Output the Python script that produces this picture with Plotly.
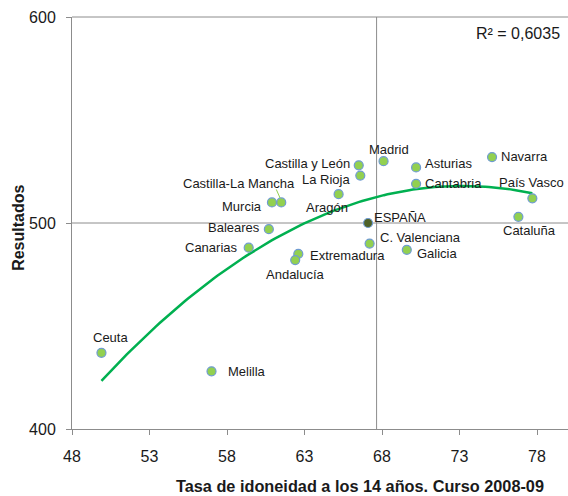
import numpy as np
import plotly.graph_objects as go

regions = ["Madrid", "Castilla y León", "La Rioja", "Asturias", "Cantabria", "Navarra",
           "País Vasco", "Aragón", "Cataluña", "C. Valenciana", "Galicia", "Extremadura",
           "Andalucía", "Baleares", "Canarias", "Ceuta", "Melilla", "Murcia", "Castilla-La Mancha"]
tasa = [68.1, 66.5, 66.6, 70.2, 70.2, 75.1, 77.7, 65.2, 76.8, 67.2, 69.6, 62.6,
        62.4, 60.7, 59.4, 49.9, 57.0, 60.9, 61.5]
resultados = [530, 528, 523, 527, 519, 532, 512, 514, 503, 490, 487, 485,
              482, 497, 488, 437, 428, 510, 510]

espana_label = "ESPAÑA"
espana_x = [67.1]
espana_y = [500]
ref_x = 67.65
ref_y = 500
r2_text = "R² = 0,6035"

# label placement: (xanchor, x pixel shift, y pixel shift; up is positive)
label_style = {
    "Madrid": ("center", 5, 12),
    "Castilla y León": ("right", -7, 2),
    "La Rioja": ("right", -8, -4),
    "Asturias": ("left", 7, 4),
    "Cantabria": ("left", 7, 0),
    "Navarra": ("left", 7, 1),
    "País Vasco": ("center", -1, 16),
    "Aragón": ("center", -12, -13),
    "Cataluña": ("center", 11, -14),
    "C. Valenciana": ("left", 8, 6),
    "Galicia": ("left", 8, -4),
    "Extremadura": ("left", 10, -2),
    "Andalucía": ("center", 0, -14),
    "Baleares": ("right", -7, 2),
    "Canarias": ("right", -9, 0),
    "Ceuta": ("center", 9, 15),
    "Melilla": ("left", 14, 0),
    "Murcia": ("right", -8, -4),
    "Castilla-La Mancha": ("center", -42, 19),
}
espana_style = ("left", 4, 6)

FONT = "Liberation Sans, Arial, sans-serif"
TXT = "#1a1a1a"
AXC = "#8c8c8c"

coef = np.polyfit(tasa, resultados, 2)
xs = np.linspace(min(tasa), max(tasa), 120)
ys = np.polyval(coef, xs)

fig = go.Figure()

fig.add_shape(type="line", xref="x", yref="paper", x0=ref_x, x1=ref_x, y0=0, y1=1,
              line=dict(color=AXC, width=1), layer="below")
fig.add_shape(type="line", xref="paper", yref="y", x0=0, x1=1, y0=ref_y, y1=ref_y,
              line=dict(color=AXC, width=1), layer="below")
fig.add_shape(type="line", xref="paper", yref="paper", x0=0, x1=1, y0=1, y1=1,
              line=dict(color=AXC, width=1))

fig.add_trace(go.Scatter(x=xs, y=ys, mode="lines",
                         line=dict(color="#00B050", width=2.5), hoverinfo="skip"))

fig.add_trace(go.Scatter(x=tasa, y=resultados, mode="markers",
                         marker=dict(size=9, color="#92D050",
                                     line=dict(color="#6F9BD1", width=1.2))))
fig.add_trace(go.Scatter(x=espana_x, y=espana_y, mode="markers",
                         marker=dict(size=9, color="#4F6228",
                                     line=dict(color="#6F9BD1", width=1.2))))

for name, x, y in zip(regions, tasa, resultados):
    anc, dx, dy = label_style[name]
    fig.add_annotation(x=x, y=y, text=name, showarrow=False, xanchor=anc,
                       yanchor="middle", xshift=dx, yshift=dy,
                       font=dict(family=FONT, size=13, color=TXT))
anc, dx, dy = espana_style
fig.add_annotation(x=espana_x[0], y=espana_y[0], text=espana_label, showarrow=False,
                   xanchor=anc, yanchor="middle", xshift=dx, yshift=dy,
                   font=dict(family=FONT, size=13, color=TXT))

# leader line for Castilla-La Mancha
i = regions.index("Castilla-La Mancha")
fig.add_shape(type="line", xref="x", yref="y", xsizemode="pixel", ysizemode="pixel",
              xanchor=tasa[i], yanchor=resultados[i], x0=-5, x1=-1, y0=13, y1=4,
              line=dict(color="#92D050", width=1))

fig.add_annotation(xref="paper", yref="paper", x=0.988, y=0.961, text=r2_text,
                   showarrow=False, xanchor="right", yanchor="middle",
                   font=dict(family=FONT, size=16, color=TXT))

fig.add_annotation(xref="paper", yref="paper", x=0.58, y=-0.138,
                   text="<b>Tasa de idoneidad a los 14 años. Curso 2008-09</b>",
                   showarrow=False, xanchor="center", yanchor="middle",
                   font=dict(family=FONT, size=16.3, color=TXT))
fig.add_annotation(xref="paper", yref="paper", x=-0.107, y=0.488,
                   text="<b>Resultados</b>", textangle=-90,
                   showarrow=False, xanchor="center", yanchor="middle",
                   font=dict(family=FONT, size=16, color=TXT))

fig.update_layout(
    width=568, height=496,
    margin=dict(l=72, r=0, t=17, b=67, autoexpand=False),
    paper_bgcolor="white", plot_bgcolor="white",
    showlegend=False,
    font=dict(family=FONT, size=16, color=TXT),
    xaxis=dict(range=[48, 80], tick0=48, dtick=5, showgrid=False, zeroline=False,
               showline=True, linecolor=AXC, linewidth=1, automargin=False,
               ticks="outside", ticklen=5, tickcolor=AXC, ticklabelstandoff=8,
               tickfont=dict(family=FONT, size=16, color=TXT)),
    yaxis=dict(range=[400, 600], tick0=400, dtick=100, showgrid=False, zeroline=False,
               showline=True, linecolor=AXC, linewidth=1, automargin=False,
               ticks="outside", ticklen=5, tickcolor=AXC, ticklabelstandoff=7,
               tickfont=dict(family=FONT, size=16, color=TXT)),
)

fig.write_html("out.html", config={"displayModeBar": False},
               post_script="document.body.style.margin='0px';document.body.style.padding='0px';")
